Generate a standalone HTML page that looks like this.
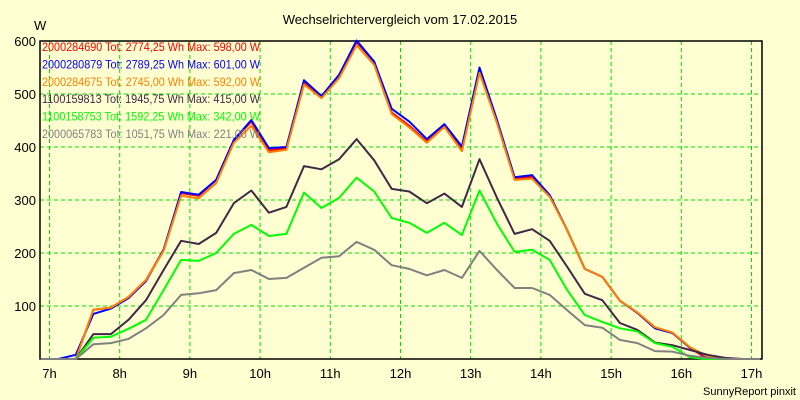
<!DOCTYPE html>
<html><head><meta charset="utf-8"><style>
body{margin:0;background:#ffffd2;}
svg{display:block;font-family:"Liberation Sans",Arial,sans-serif;}
</style></head><body>
<svg id="chart" width="800" height="400" viewBox="0 0 800 400">
<rect width="800" height="400" fill="#ffffd2"/>
<text x="400" y="24" text-anchor="middle" font-size="13" fill="#000">Wechselrichtervergleich vom 17.02.2015</text>
<text x="34" y="30" font-size="13" fill="#000">W</text>
<g id="grid"></g><g id="axes"></g><g id="series"></g><g id="legend"></g>
<text x="796" y="395" text-anchor="end" font-size="11" fill="#000">SunnyReport pinxit</text>
</svg>
<script>
const yTicks=[100,200,300,400,500,600];
const xTicks=[7,8,9,10,11,12,13,14,15,16,17];
const startHour=6.875; // first sample time (6:52.5), 15-min steps
const seriesNames=["2000284690","2000280879","2000284675","1100159813","1100158753","2000065783"];
const seriesTot=["2774,25","2789,25","2745,00","1945,75","1592,25","1051,75"];
const seriesMax=["598,00","601,00","592,00","415,00","342,00","221,00"];
const redVals=[0,0,0,93,97,117,149,206,313,308,338,413,448,394,398,522,496,536,598,561,465,440,410,440,396,545,448,341,344,309,243,170,155,110,87,58,49,21,0,0,0,0];
const blueVals=[0,0,8,85,95,115,147,206,315,310,338,413,451,398,400,526,496,536,601,561,472,448,415,443,401,550,451,343,347,309,243,170,155,110,87,58,49,21,4,0,0,0];
const orangeVals=[0,0,0,93,97,117,149,204,308,303,332,408,440,390,395,518,492,530,592,555,462,437,408,438,392,540,445,338,340,306,243,170,155,110,88,60,50,22,5,0,0,0];
const darkVals=[0,0,0,47,47,74,111,168,223,217,238,294,318,276,287,364,358,377,415,375,321,316,294,312,287,377,304,236,245,223,174,123,111,68,55,31,26,17,8,2,0,0];
const greenVals=[0,0,0,40,42,57,74,130,187,185,200,236,253,232,236,314,285,304,342,316,266,257,238,257,234,318,255,202,206,187,130,83,70,58,52,30,23,3,0,0,0,0];
const grayVals=[0,0,0,28,30,38,58,83,121,124,130,162,168,151,153,172,191,194,221,206,177,170,158,168,153,204,168,134,134,121,92,64,59,36,30,15,14,6,2,0,0,0];
const seriesColors=["#ff0000","#0000ff","#ff8000","#402848","#00ff00","#808080"];
const allVals=[redVals,blueVals,orangeVals,darkVals,greenVals,grayVals];

const L=40,R=762,T=41,B=359;
const xScale=h=>49.5+(h-7)*70.2;
const yScale=v=>B-(v/600)*(B-T);
const NS="http://www.w3.org/2000/svg";
function mk(tag,attrs,parent){const e=document.createElementNS(NS,tag);for(const k in attrs)e.setAttribute(k,attrs[k]);parent.appendChild(e);return e;}
const grid=document.getElementById('grid'),axes=document.getElementById('axes'),ser=document.getElementById('series'),leg=document.getElementById('legend');
mk('rect',{x:L,y:T,width:R-L,height:B-T,fill:'#ffffd2'},grid);
yTicks.forEach(v=>{
  const y=yScale(v);
  if(v<600){const g=mk('line',{x1:L,x2:R,y1:y,y2:y,stroke:'#00e000','stroke-dasharray':'4,3','stroke-width':1},grid);
  
  }
  const t=mk('text',{x:36,y:y+5,'text-anchor':'end','font-size':13,fill:'#000'},axes);t.textContent=v;
  
  
});
xTicks.forEach(h=>{
  const x=xScale(h);
  const g=mk('line',{x1:x,x2:x,y1:T,y2:B,stroke:'#00e000','stroke-dasharray':'4,3','stroke-width':1},grid);
  
  
  const t=mk('text',{x:x,y:378,'text-anchor':'middle','font-size':13,fill:'#000'},axes);t.textContent=h+'h';
  
  
});
const frame=mk('rect',{x:L,y:T,width:R-L,height:B-T,fill:'none',stroke:'#000','stroke-width':1.5},axes);


allVals.forEach((vals,i)=>{
  const pts=vals.map((v,k)=>{let x=xScale(startHour+k*0.25);x=Math.max(L,Math.min(R-2,x));return x.toFixed(1)+','+yScale(v).toFixed(1);}).join(' ');
  const p=mk('polyline',{points:pts,fill:'none',stroke:seriesColors[i],'stroke-width':2,'stroke-linejoin':'round'},ser);
  
  
});
seriesNames.forEach((n,i)=>{
  const t=mk('text',{x:42,y:51+i*17.4,'font-size':12,fill:seriesColors[i],textLength:218,lengthAdjust:'spacingAndGlyphs'},leg);
  t.textContent=n+' Tot: '+seriesTot[i]+' Wh Max: '+seriesMax[i]+' W';
  
  
});
</script>
</body></html>
